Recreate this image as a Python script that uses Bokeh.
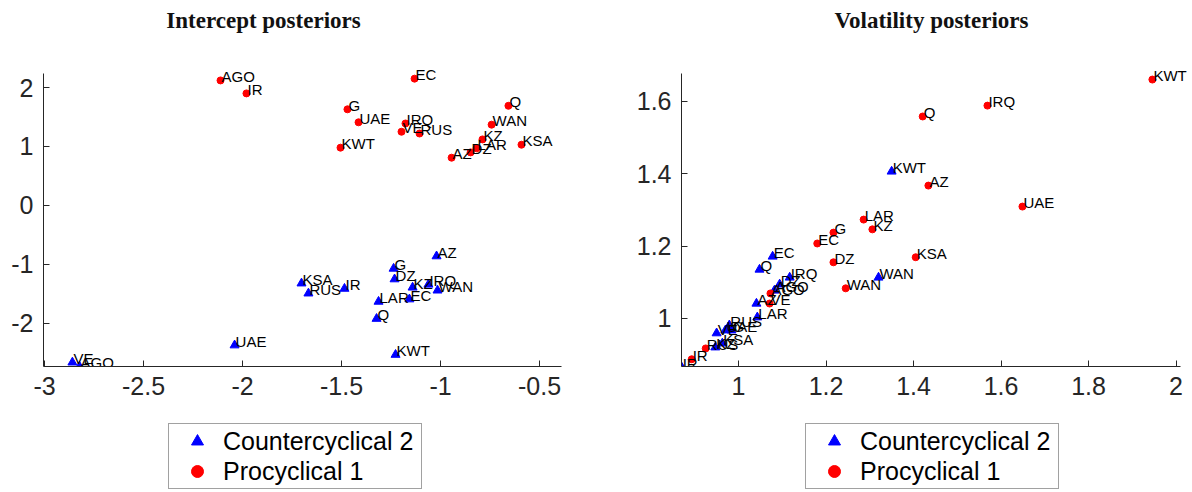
from bokeh.plotting import figure
from bokeh.models import (Range1d, FixedTicker, CustomJSTickFormatter, Legend, LegendItem,
                          ColumnDataSource, Label)
from bokeh.layouts import row, column
from bokeh.embed import file_html
from bokeh.resources import INLINE
from bokeh.core.properties import value

# ---------------- data ----------------
# Intercept posteriors
int_pro_names = ["AGO", "IR", "EC", "G", "UAE", "KWT", "VE", "IRQ", "RUS", "Q", "WAN", "KZ", "LAR", "DZ", "AZ", "KSA"]
int_pro_x = [-2.111, -1.980, -1.131, -1.470, -1.414, -1.505, -1.197, -1.177, -1.106, -0.657, -0.742, -0.788, -0.818, -0.848, -0.944, -0.591]
int_pro_y = [2.12, 1.90, 2.15, 1.63, 1.41, 0.98, 1.25, 1.39, 1.22, 1.69, 1.37, 1.12, 0.97, 0.90, 0.81, 1.03]

int_ctr_names = ["VE", "AGO", "UAE", "KSA", "RUS", "IR", "G", "DZ", "KZ", "IRQ", "WAN", "AZ", "LAR", "EC", "Q", "KWT"]
int_ctr_x = [-2.859, -2.823, -2.040, -1.702, -1.667, -1.485, -1.237, -1.232, -1.141, -1.061, -1.015, -1.020, -1.313, -1.157, -1.323, -1.227]
int_ctr_y = [-2.66, -2.73, -2.37, -1.32, -1.49, -1.41, -1.07, -1.25, -1.39, -1.34, -1.44, -0.86, -1.63, -1.59, -1.92, -2.53]

# Volatility posteriors
vol_pro_names = ["KWT", "UAE", "IRQ", "Q", "AZ", "KSA", "LAR", "KZ", "G", "EC", "DZ", "WAN", "AGO", "VE", "RUS", "IR"]
vol_pro_x = [1.946, 1.649, 1.569, 1.421, 1.434, 1.405, 1.286, 1.306, 1.217, 1.180, 1.217, 1.245, 1.073, 1.071, 0.925, 0.893]
vol_pro_y = [1.660, 1.309, 1.588, 1.558, 1.367, 1.169, 1.273, 1.246, 1.237, 1.207, 1.155, 1.083, 1.069, 1.041, 0.917, 0.887]

vol_ctr_names = ["KWT", "WAN", "EC", "Q", "IRQ", "DZ", "AGO", "AZ", "LAR", "RUS", "UAE", "G", "VE", "KSA", "KZ", "IR"]
vol_ctr_x = [1.350, 1.320, 1.078, 1.048, 1.117, 1.094, 1.082, 1.041, 1.043, 0.979, 0.970, 0.984, 0.950, 0.963, 0.947, 0.870]
vol_ctr_y = [1.406, 1.113, 1.171, 1.135, 1.113, 1.094, 1.077, 1.041, 1.003, 0.981, 0.967, 0.967, 0.959, 0.931, 0.920, 0.865]

int_xticks = [-3, -2.5, -2, -1.5, -1, -0.5]
int_yticks = [-2, -1, 0, 1, 2]
vol_xticks = [1, 1.2, 1.4, 1.6, 1.8, 2]
vol_yticks = [1, 1.2, 1.4, 1.6]

# axis limits (drawn part)
int_xlim, int_ylim = (-3.005, -0.39), (-2.73, 2.24)
vol_xlim, vol_ylim = (0.8697, 2.0103), (0.867, 1.677)

legend_labels = ["Countercyclical 2", "Procyclical 1"]
titles = ["Intercept posteriors", "Volatility posteriors"]

FONT = "Liberation Sans"
AX = "#262626"
BLUE, RED = "#0000ff", "#ff0000"
fmt = CustomJSTickFormatter(code="return String(Number(tick.toFixed(2)));")

BOTTOM, H_MAIN = 366, 410


def make_panel(title, pro, ctr, xlim, ylim, xr_end, yr_end, xt, yt, width, mbl, title_cx):
    p = figure(width=width, height=H_MAIN, x_range=Range1d(xlim[0], xr_end),
               y_range=Range1d(ylim[0], yr_end), title=None,
               output_backend="svg", toolbar_location=None,
               min_border_left=mbl, min_border_right=0, min_border_top=0,
               min_border_bottom=H_MAIN - BOTTOM)
    p.outline_line_color = None
    p.grid.visible = False
    for ax in (p.xaxis, p.yaxis):
        ax.axis_line_color = AX
        ax.major_tick_line_color = AX
        ax.major_tick_in = 6
        ax.major_tick_out = 0
        ax.minor_tick_line_color = None
        ax.major_label_text_font = FONT
        ax.major_label_text_font_size = "25px"
        ax.major_label_text_color = AX
        ax.major_label_standoff = 10
        ax.formatter = fmt
    p.xaxis.ticker = FixedTicker(ticks=xt)
    p.yaxis.ticker = FixedTicker(ticks=yt)
    p.xaxis.bounds = xlim
    p.yaxis.bounds = ylim

    # title (placed in screen units relative to the plotting area)
    p.add_layout(Label(x=title_cx, y=BOTTOM - 20, x_units="screen", y_units="screen",
                       text=title, text_font="Liberation Serif", text_font_style="bold",
                       text_font_size="23px", text_color="#111111",
                       text_align="center", text_baseline="alphabetic"))

    cn, cx, cy = ctr
    pn, px, py = pro
    sc = ColumnDataSource(dict(x=cx, y=cy, t=cn))
    sp = ColumnDataSource(dict(x=px, y=py, t=pn))
    p.scatter("x", "y", source=sc, marker="triangle", size=9, color=BLUE)
    p.scatter("x", "y", source=sp, marker="circle", size=7, color=RED)
    for s in (sc, sp):
        p.text("x", "y", text="t", source=s, x_offset=1, y_offset=-4,
               text_font=value(FONT), text_font_size="15px", text_color="#000000",
               text_baseline="alphabetic", text_align="left")
    return p, sc, sp


def make_legend_fig(width, leg_x, sc, sp):
    # legend panel below the axes; the series renderers share the data sources,
    # the view range is placed away from the data so only the legend shows
    q = figure(width=width, height=492 - H_MAIN, output_backend="svg", toolbar_location=None,
               x_range=Range1d(10, 11), y_range=Range1d(10, 11), title=None,
               min_border_left=0, min_border_right=0, min_border_top=0, min_border_bottom=0)
    q.axis.visible = False
    q.grid.visible = False
    q.outline_line_color = None
    r_ctr = q.scatter("x", "y", source=sc, marker="triangle", size=9, color=BLUE)
    r_pro = q.scatter("x", "y", source=sp, marker="circle", size=7, color=RED)
    leg = Legend(items=[LegendItem(label=legend_labels[0], renderers=[r_ctr]),
                        LegendItem(label=legend_labels[1], renderers=[r_pro])],
                 location=(leg_x, 3), orientation="vertical")
    leg.label_text_font = FONT
    leg.label_text_font_size = "25px"
    leg.label_text_color = "#000000"
    leg.glyph_width = 52
    leg.glyph_height = 30
    leg.label_height = 30
    leg.label_width = 196
    leg.label_standoff = 0
    leg.padding = 2
    leg.spacing = 0
    leg.margin = 0
    leg.border_line_color = "#444444"
    leg.border_line_width = 1
    leg.background_fill_color = "#ffffff"
    q.add_layout(leg, "center")
    return q


# plotting area: y=0 .. 366 px; left axes 43..600 px, right axes 681..1192 px
p1, sc1, sp1 = make_panel(titles[0],
                          (int_pro_names, int_pro_x, int_pro_y),
                          (int_ctr_names, int_ctr_x, int_ctr_y),
                          int_xlim, int_ylim, -0.192, 3.475, int_xticks, int_yticks,
                          600, 43, 220)
p2, sc2, sp2 = make_panel(titles[1],
                          (vol_pro_names, vol_pro_x, vol_pro_y),
                          (vol_ctr_names, vol_ctr_x, vol_ctr_y),
                          vol_xlim, vol_ylim, 2.0377, 1.8785, vol_xticks, vol_yticks,
                          592, 81, 250)
q1 = make_legend_fig(600, 168, sc1, sp1)
q2 = make_legend_fig(592, 205, sc2, sp2)

layout = column(row(p1, p2), row(q1, q2))
open("out.html", "w").write(file_html(layout, INLINE))
